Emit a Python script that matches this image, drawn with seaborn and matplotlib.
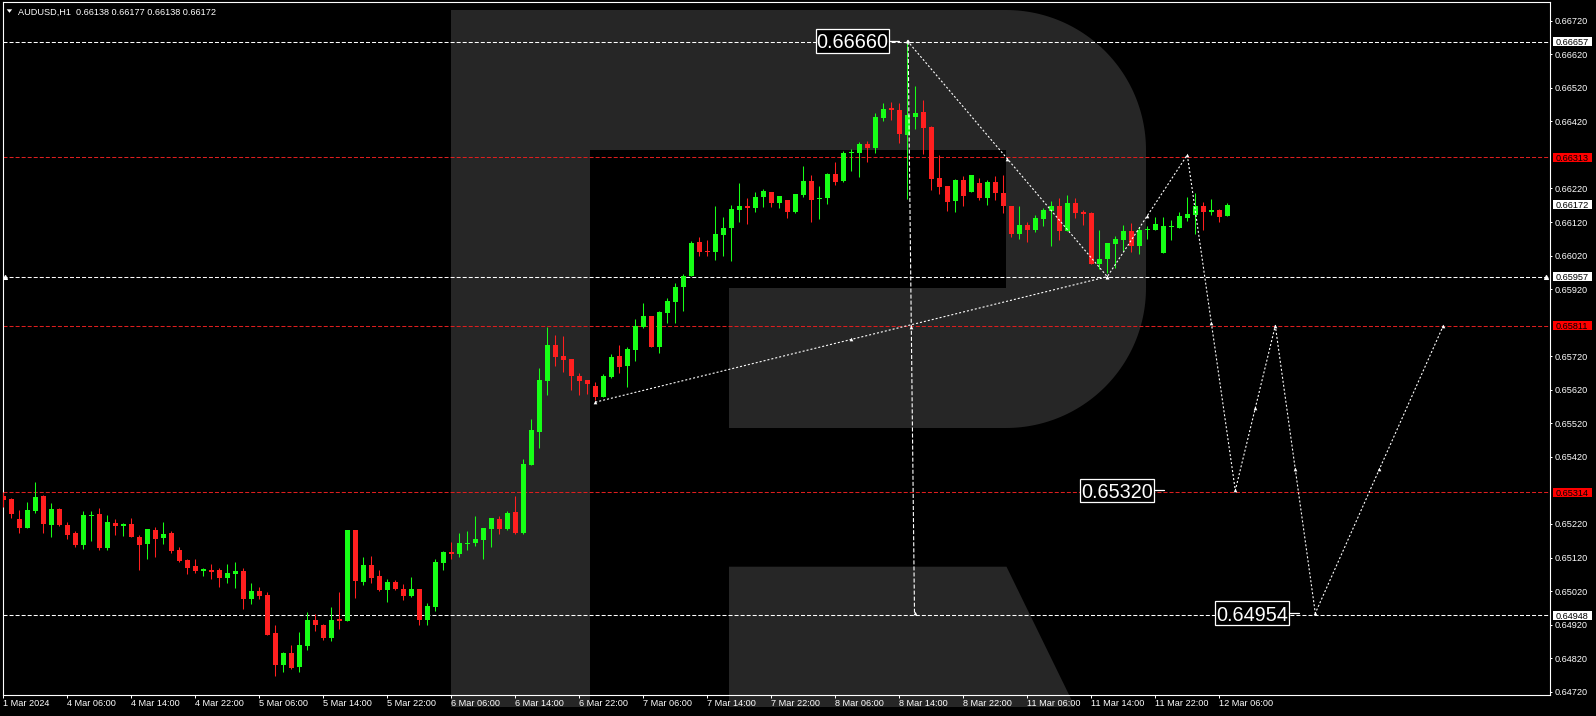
import numpy as np
import matplotlib
matplotlib.use("Agg")
import matplotlib.pyplot as plt
import matplotlib.transforms as mtransforms
from matplotlib.patches import Rectangle, Polygon
import seaborn as sns

# ---------------- data (AUDUSD H1, bar 0 = 1 Mar 22:00) ----------------
opens = [
    0.65304, 0.65295, 0.65235, 0.65209, 0.65259, 0.65304, 0.65218, 0.65265, 0.65218, 0.65194,
    0.65158, 0.65244, 0.65250, 0.65149, 0.65223, 0.65215, 0.65220, 0.65182, 0.65161, 0.65203,
    0.65179, 0.65194, 0.65143, 0.65113, 0.65096, 0.65081, 0.65083, 0.65083, 0.65060, 0.65072,
    0.65081, 0.64997, 0.65021, 0.65009, 0.64896, 0.64800, 0.64836, 0.64794, 0.64857, 0.64934,
    0.64919, 0.64880, 0.64937, 0.64931, 0.65203, 0.65048, 0.65099, 0.65066, 0.65024, 0.65048,
    0.65027, 0.65006, 0.65027, 0.64934, 0.64973, 0.65104, 0.65137, 0.65131, 0.65161, 0.65164,
    0.65173, 0.65206, 0.65235, 0.65206, 0.65256, 0.65194, 0.65396, 0.65495, 0.65647, 0.65754,
    0.65721, 0.65712, 0.65662, 0.65650, 0.65632, 0.65599, 0.65659, 0.65721, 0.65691, 0.65739,
    0.65808, 0.65840, 0.65748, 0.65849, 0.65882, 0.65927, 0.65959, 0.66061, 0.66034, 0.66031,
    0.66082, 0.66103, 0.66156, 0.66168, 0.66162, 0.66195, 0.66210, 0.66177, 0.66186, 0.66150,
    0.66201, 0.66243, 0.66189, 0.66192, 0.66264, 0.66243, 0.66325, 0.66326, 0.66353, 0.66341,
    0.66430, 0.66460, 0.66454, 0.66380, 0.66433, 0.66448, 0.66404, 0.66252, 0.66228, 0.66183,
    0.66246, 0.66210, 0.66237, 0.66192, 0.66240, 0.66207, 0.66168, 0.66085, 0.66111, 0.66097,
    0.66129, 0.66153, 0.66168, 0.66094, 0.66177, 0.66150, 0.66147, 0.65995, 0.66009, 0.66055,
    0.66067, 0.66094, 0.66049, 0.66095, 0.66097, 0.66028, 0.66106, 0.66103, 0.66132, 0.66141,
    0.66168, 0.66150, 0.66156, 0.66138]
highs = [
    0.65316, 0.65296, 0.65262, 0.65286, 0.65346, 0.65307, 0.65283, 0.65268, 0.65226, 0.65200,
    0.65259, 0.65259, 0.65268, 0.65247, 0.65235, 0.65223, 0.65238, 0.65188, 0.65206, 0.65212,
    0.65226, 0.65200, 0.65152, 0.65116, 0.65116, 0.65090, 0.65101, 0.65090, 0.65101, 0.65107,
    0.65090, 0.65045, 0.65033, 0.65018, 0.64919, 0.64839, 0.64860, 0.64899, 0.64958, 0.64952,
    0.64922, 0.64973, 0.65018, 0.65203, 0.65203, 0.65122, 0.65125, 0.65083, 0.65057, 0.65054,
    0.65042, 0.65063, 0.65027, 0.64985, 0.65116, 0.65140, 0.65167, 0.65194, 0.65200, 0.65244,
    0.65209, 0.65238, 0.65244, 0.65259, 0.65304, 0.65414, 0.65533, 0.65685, 0.65808, 0.65784,
    0.65781, 0.65712, 0.65671, 0.65650, 0.65644, 0.65668, 0.65727, 0.65754, 0.65748, 0.65831,
    0.65879, 0.65840, 0.65855, 0.65894, 0.65939, 0.65965, 0.66064, 0.66076, 0.66067, 0.66168,
    0.66135, 0.66171, 0.66237, 0.66192, 0.66210, 0.66219, 0.66210, 0.66198, 0.66186, 0.66204,
    0.66287, 0.66261, 0.66228, 0.66267, 0.66299, 0.66332, 0.66338, 0.66359, 0.66362, 0.66445,
    0.66475, 0.66478, 0.66475, 0.66660, 0.66526, 0.66484, 0.66407, 0.66320, 0.66228, 0.66249,
    0.66258, 0.66261, 0.66252, 0.66246, 0.66258, 0.66261, 0.66168, 0.66168, 0.66120, 0.66141,
    0.66162, 0.66183, 0.66192, 0.66201, 0.66192, 0.66156, 0.66150, 0.66097, 0.66058, 0.66079,
    0.66111, 0.66118, 0.66105, 0.66108, 0.66135, 0.66135, 0.66126, 0.66150, 0.66195, 0.66207,
    0.66180, 0.66189, 0.66159, 0.66177]
lows = [
    0.65271, 0.65238, 0.65194, 0.65209, 0.65253, 0.65194, 0.65182, 0.65215, 0.65176, 0.65152,
    0.65146, 0.65170, 0.65143, 0.65143, 0.65188, 0.65185, 0.65182, 0.65083, 0.65116, 0.65122,
    0.65161, 0.65134, 0.65107, 0.65072, 0.65075, 0.65066, 0.65057, 0.65033, 0.65045, 0.65030,
    0.64967, 0.64982, 0.64997, 0.64890, 0.64768, 0.64779, 0.64788, 0.64779, 0.64845, 0.64902,
    0.64874, 0.64871, 0.64907, 0.64931, 0.65000, 0.65039, 0.65045, 0.65021, 0.64988, 0.65024,
    0.64994, 0.65003, 0.64919, 0.64919, 0.64961, 0.65083, 0.65116, 0.65122, 0.65143, 0.65155,
    0.65116, 0.65152, 0.65191, 0.65203, 0.65191, 0.65191, 0.65396, 0.65447, 0.65605, 0.65691,
    0.65673, 0.65620, 0.65605, 0.65608, 0.65590, 0.65599, 0.65656, 0.65670, 0.65629, 0.65706,
    0.65805, 0.65748, 0.65730, 0.65819, 0.65819, 0.65855, 0.65959, 0.66019, 0.66019, 0.66007,
    0.66019, 0.66004, 0.66120, 0.66114, 0.66150, 0.66165, 0.66165, 0.66162, 0.66132, 0.66147,
    0.66195, 0.66120, 0.66129, 0.66174, 0.66231, 0.66240, 0.66271, 0.66253, 0.66298, 0.66326,
    0.66421, 0.66424, 0.66355, 0.66189, 0.66398, 0.66323, 0.66216, 0.66204, 0.66153, 0.66150,
    0.66168, 0.66210, 0.66186, 0.66171, 0.66186, 0.66147, 0.66076, 0.66070, 0.66061, 0.66091,
    0.66109, 0.66049, 0.66067, 0.66094, 0.66132, 0.66111, 0.65995, 0.65980, 0.65968, 0.65983,
    0.66034, 0.66031, 0.66025, 0.66070, 0.66097, 0.66028, 0.66067, 0.66103, 0.66123, 0.66085,
    0.66097, 0.66141, 0.66120, 0.66138]
closes = [
    0.65292, 0.65250, 0.65209, 0.65262, 0.65301, 0.65220, 0.65265, 0.65218, 0.65188, 0.65158,
    0.65247, 0.65247, 0.65149, 0.65226, 0.65215, 0.65220, 0.65182, 0.65158, 0.65206, 0.65176,
    0.65191, 0.65140, 0.65110, 0.65090, 0.65081, 0.65087, 0.65077, 0.65060, 0.65075, 0.65081,
    0.64997, 0.65021, 0.65006, 0.64890, 0.64800, 0.64836, 0.64791, 0.64860, 0.64934, 0.64919,
    0.64880, 0.64934, 0.64931, 0.65203, 0.65051, 0.65099, 0.65060, 0.65024, 0.65048, 0.65027,
    0.65006, 0.65027, 0.64934, 0.64976, 0.65107, 0.65137, 0.65131, 0.65164, 0.65164, 0.65176,
    0.65209, 0.65238, 0.65206, 0.65253, 0.65194, 0.65399, 0.65500, 0.65650, 0.65754, 0.65718,
    0.65709, 0.65662, 0.65647, 0.65638, 0.65599, 0.65662, 0.65718, 0.65688, 0.65742, 0.65810,
    0.65840, 0.65748, 0.65852, 0.65885, 0.65927, 0.65959, 0.66058, 0.66031, 0.66031, 0.66085,
    0.66103, 0.66159, 0.66168, 0.66162, 0.66195, 0.66213, 0.66177, 0.66198, 0.66150, 0.66204,
    0.66243, 0.66186, 0.66192, 0.66264, 0.66240, 0.66326, 0.66328, 0.66353, 0.66341, 0.66433,
    0.66457, 0.66454, 0.66383, 0.66439, 0.66445, 0.66401, 0.66249, 0.66225, 0.66180, 0.66246,
    0.66198, 0.66261, 0.66192, 0.66240, 0.66207, 0.66168, 0.66085, 0.66111, 0.66097, 0.66132,
    0.66156, 0.66168, 0.66094, 0.66177, 0.66147, 0.66144, 0.65995, 0.66009, 0.66058, 0.66070,
    0.66094, 0.66049, 0.66097, 0.66098, 0.66115, 0.66109, 0.66109, 0.66138, 0.66144, 0.66168,
    0.66150, 0.66156, 0.66135, 0.66172]

title_text = "AUDUSD,H1  0.66138 0.66177 0.66138 0.66172"
tick_bars = list(range(0, 153, 8))
tick_labels = ["1 Mar 2024", "4 Mar 06:00", "4 Mar 14:00", "4 Mar 22:00", "5 Mar 06:00",
               "5 Mar 14:00", "5 Mar 22:00", "6 Mar 06:00", "6 Mar 14:00", "6 Mar 22:00",
               "7 Mar 06:00", "7 Mar 14:00", "7 Mar 22:00", "8 Mar 06:00", "8 Mar 14:00",
               "8 Mar 22:00", "11 Mar 06:00", "11 Mar 14:00", "11 Mar 22:00", "12 Mar 06:00"]
ytick_values = [0.66720, 0.66620, 0.66520, 0.66420, 0.66220, 0.66120, 0.66020, 0.65920,
                0.65720, 0.65620, 0.65520, 0.65420, 0.65220, 0.65120, 0.65020, 0.64920,
                0.64820, 0.64720]
white_levels = [0.66657, 0.65957, 0.64948]
red_levels = [0.66313, 0.65811, 0.65314]
bid_price = 0.66172

trend_bars = [74, 138]
trend_prices = [0.65583, 0.65957]
zig_bars = [113, 138, 148, 154, 159, 164, 180]
zig_prices = [0.66660, 0.65957, 0.66320, 0.65320, 0.65811, 0.64954, 0.65811]
vert_bars = [113.1, 113.9]
vert_prices = [0.66660, 0.64954]
target_labels = ["0.66660", "0.65320", "0.64954"]
target_prices = [0.66660, 0.65320, 0.64954]
target_box_right = [110.75, 143.8, 160.7]

# ---------------- style ----------------
sns.set_theme(style="dark", rc={"axes.facecolor": "none", "figure.facecolor": "black"})
plt.rcParams["font.family"] = ["Liberation Sans", "DejaVu Sans"]
plt.rcParams["lines.scale_dashes"] = False

GREEN = "#16ff16"
RED = "#ff1f1f"
LVL_RED = "#dc1e1e"
WM = "#262626"

W, H = 1596, 716
fig = plt.figure(figsize=(W / 100, H / 100), dpi=100)
fig.patch.set_facecolor("black")

# background watermark (pixel coordinates)
bg = fig.add_axes([0, 0, 1, 1], zorder=0)
bg.set_xlim(0, W)
bg.set_ylim(H, 0)
bg.axis("off")
bg.add_patch(Rectangle((450.5, 10), 139, 697, facecolor=WM, lw=0))
t = np.linspace(0, np.pi / 2, 60)
r = 140
top_arc = np.column_stack([1006 + r * np.sin(t), 150 - r * np.cos(t)])
bot_arc = np.column_stack([1006 + r * np.cos(t), 288 + r * np.sin(t)])
bowl = np.vstack([[[588, 10]], top_arc, [[1146, 288]], bot_arc,
                  [[729, 428], [729, 288], [1006, 288], [1006, 150], [588, 150]]])
bg.add_patch(Polygon(bowl, closed=True, facecolor=WM, lw=0))
bg.add_patch(Polygon([(729, 566.7), (1006.5, 566.7), (1075, 707), (729, 707)],
                     closed=True, facecolor=WM, lw=0))
bg.add_patch(Polygon([(6.7, 9.3), (12.2, 9.3), (9.45, 12.8)], closed=True,
                     facecolor="white", lw=0))

# main axes
L, R, T, B = 2.7, 1550.3, 2.0, 695.0
ax = fig.add_axes([L / W, 1 - B / H, (R - L) / W, (B - T) / H], zorder=1)
ax.set_facecolor("none")
ax.grid(False)
ax.set_xlim((L - 3.3) / 8, (R - 3.3) / 8)
pp = 0.02 / 671.0
ax.set_ylim(0.66720 - (B - 20.7) * pp, 0.66720 + (20.7 - T) * pp)
for s in ax.spines.values():
    s.set_visible(True)
    s.set_color("white")
    s.set_linewidth(0.8)

# level lines
for p in white_levels:
    ax.axhline(p, color="white", lw=0.75, dashes=(2.9, 1.45), zorder=2)
for p in red_levels:
    ax.axhline(p, color=LVL_RED, lw=0.75, dashes=(2.9, 1.45), zorder=2)
ax.scatter([0.2, 192.8], [0.65957, 0.65957], marker="^", s=7, color="white", zorder=4)

# candles
o = np.array(opens); h = np.array(highs); l = np.array(lows); c = np.array(closes)
idx = np.arange(len(o))
cols = np.where(c >= o, GREEN, RED)
ax.vlines(idx, l, h, colors=cols, linewidth=0.75, zorder=3)
body_lo = np.minimum(o, c)
body_h = np.maximum(np.abs(c - o), pp * 1.0)
ax.bar(idx, body_h, bottom=body_lo, width=0.625, color=cols, linewidth=0, zorder=3)

# forecast drawing
def draw_path(xs, ys, dash):
    sns.lineplot(x=xs, y=ys, ax=ax, color="white", linewidth=0.8, sort=False,
                 estimator=None, legend=False, zorder=5)
    ax.lines[-1].set_dashes(dash)
    mx = list(xs) + [(xs[i] + xs[i + 1]) / 2 for i in range(len(xs) - 1)]
    my = list(ys) + [(ys[i] + ys[i + 1]) / 2 for i in range(len(ys) - 1)]
    ax.scatter(mx, my, marker="^", s=7, color="white", linewidths=0, zorder=6)

draw_path(trend_bars, trend_prices, (1.45, 1.45))
draw_path(zig_bars, zig_prices, (1.45, 1.45))
draw_path(vert_bars, vert_prices, (2.9, 1.45))

# target labels
bw = 73.7 / 8
bh = 23.6 * pp
for lab, pr, xr in zip(target_labels, target_prices, target_box_right):
    ax.add_patch(Rectangle((xr - bw, pr - bh / 2), bw, bh, facecolor="black",
                           edgecolor="white", lw=0.9, zorder=8))
    ax.text(xr - bw / 2, pr, lab, color="white", fontsize=14.3, ha="center",
            va="center_baseline", zorder=9)
    ax.plot([xr, xr + 10 / 8], [pr, pr], color="white", lw=0.9, zorder=8)

# axes ticks
ax.yaxis.tick_right()
ax.set_yticks(ytick_values)
ax.set_yticklabels([f"{v:.5f}" for v in ytick_values])
ax.tick_params(axis="y", right=True, left=False, length=1.6, width=0.72, pad=1.7,
               colors="white", labelsize=6.6)
ax.set_xticks(tick_bars)
ax.set_xticklabels(tick_labels)
ax.tick_params(axis="x", bottom=True, length=2.4, width=0.72, pad=0.6,
               colors="white", labelsize=6.6)
for lbl in ax.get_xticklabels():
    lbl.set_horizontalalignment("left")

# right-side price boxes
tr_fy = mtransforms.blended_transform_factory(fig.transFigure, ax.transData)
def right_box(price, face, tc):
    ax.add_patch(Rectangle((1552.7 / W, price - 4.6 * pp), 39.5 / W, 9.2 * pp,
                           transform=tr_fy, facecolor=face, edgecolor="none",
                           clip_on=False, zorder=10))
    ax.text(1555.3 / W, price, f"{price:.5f}", transform=tr_fy, color=tc,
            fontsize=6.6, ha="left", va="center_baseline", clip_on=False, zorder=11)

for p in white_levels:
    right_box(p, "white", "black")
for p in red_levels:
    right_box(p, "#ff0000", "black")
right_box(bid_price, "white", "black")

# title
fig.text(17.7 / W, 1 - 10.9 / H, title_text, color="white", fontsize=6.6,
         ha="left", va="center_baseline")

fig.savefig("out.png", dpi=100, facecolor="black")
